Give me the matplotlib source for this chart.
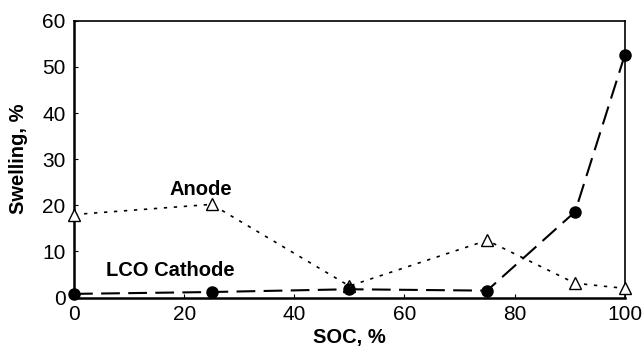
import matplotlib.pyplot as plt

plt.rcParams["font.family"] = ["Liberation Sans", "DejaVu Sans"]

# values
soc = [0, 25, 50, 75, 91, 100]
anode = [18.0, 20.2, 2.5, 12.4, 3.1, 2.0]
cathode = [0.8, 1.2, 1.8, 1.5, 18.6, 52.5]

fig, ax = plt.subplots(figsize=(6.44, 3.46), dpi=100)
fig.subplots_adjust(left=0.115, right=0.97, bottom=0.14, top=0.94)

ax.plot(soc, anode, linestyle=(0, (2, 4)), color="black", linewidth=1.2,
        marker="^", markersize=8, markerfacecolor="white",
        markeredgecolor="black", markeredgewidth=1.0, clip_on=False, zorder=3)
ax.plot(soc, cathode, linestyle=(0, (9, 4)), color="black", linewidth=1.5,
        marker="o", markersize=8, markerfacecolor="black",
        markeredgecolor="black", clip_on=False, zorder=4)

ax.text(23, 23.5, "Anode", fontsize=14.5, fontweight="bold", ha="center", va="center")
ax.text(17.5, 5.8, "LCO Cathode", fontsize=14.5, fontweight="bold", ha="center", va="center")

ax.set_xlim(0, 100)
ax.set_ylim(0, 60)
ax.set_xticks([0, 20, 40, 60, 80, 100])
ax.set_yticks([0, 10, 20, 30, 40, 50, 60])
ax.tick_params(axis="both", direction="in", labelsize=15, length=3, width=0.8)
ax.tick_params(axis="x", pad=5)
ax.tick_params(axis="y", pad=6)
ax.set_xlabel("SOC, %", fontsize=14.5, fontweight="bold", labelpad=3)
ax.set_ylabel("Swelling, %", fontsize=14.5, fontweight="bold", labelpad=10)

for side in ["left", "bottom"]:
    ax.spines[side].set_linewidth(1.8)
for side in ["top", "right"]:
    ax.spines[side].set_linewidth(1.2)

plt.savefig("out.png", dpi=100)
